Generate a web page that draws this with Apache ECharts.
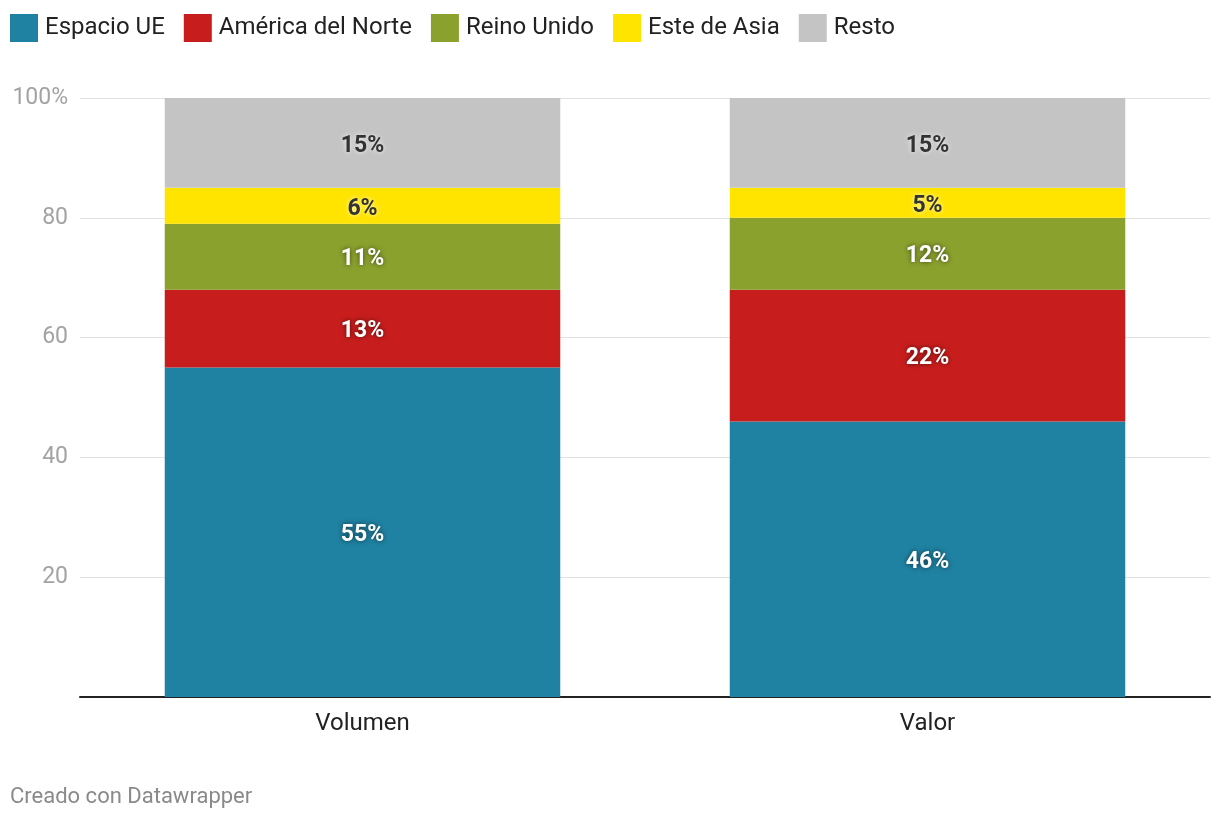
<!DOCTYPE html>
<html>
<head>
<meta charset="utf-8">
<script src="https://cdn.jsdelivr.net/npm/echarts@6/dist/echarts.min.js"></script>
<style>
html,body{margin:0;padding:0;background:#fff;}
#chart{width:1220px;height:820px;}
</style>
</head>
<body>
<div id="chart"></div>
<script>
const categories = ['Volumen', 'Valor'];
const seriesNames = ['Espacio UE', 'América del Norte', 'Reino Unido', 'Este de Asia', 'Resto'];
const espacioUE = [55, 46];
const americaNorte = [13, 22];
const reinoUnido = [11, 12];
const esteAsia = [6, 5];
const resto = [15, 15];
const yTicks = [0, 20, 40, 60, 80, 100];

const colors = ['#1f82a2', '#c71e1d', '#8ba12e', '#ffe400', '#c4c4c4'];
const darkLabel = [false, false, false, true, true];
const values = [espacioUE, americaNorte, reinoUnido, esteAsia, resto];

const chart = echarts.init(document.getElementById('chart'));
const FONT = 'Roboto, "Noto Sans", sans-serif';

const series = seriesNames.map((name, i) => ({
  name: name,
  type: 'bar',
  stack: 'total',
  barWidth: '70%',
  data: values[i],
  itemStyle: { color: colors[i] },
  label: {
    show: true,
    position: 'inside',
    offset: [0, 3],
    formatter: p => p.value + '%',
    fontFamily: FONT,
    fontWeight: 'bold',
    fontSize: 23,
    color: darkLabel[i] ? '#333333' : '#ffffff',
    textShadowColor: darkLabel[i] ? 'rgba(255,255,255,0.8)' : 'rgba(0,0,0,0.6)',
    textShadowBlur: 5
  },
  emphasis: { disabled: true }
}));

chart.setOption({
  animation: false,
  textStyle: { fontFamily: FONT },
  legend: {
    left: 5,
    top: 9,
    itemWidth: 28,
    itemHeight: 28,
    itemGap: 19,
    icon: 'rect',
    data: seriesNames,
    textStyle: { fontSize: 24, color: '#222222', fontFamily: FONT, padding: [0, 0, 0, 2] },
    selectedMode: false
  },
  grid: { left: 80, right: 10, top: 98, bottom: 123, containLabel: false },
  xAxis: {
    type: 'category',
    data: categories,
    axisLine: { lineStyle: { color: '#222222', width: 2 } },
    axisTick: { show: false },
    axisLabel: { fontSize: 24, color: '#222222', margin: 15, fontFamily: FONT }
  },
  yAxis: {
    type: 'value',
    min: yTicks[0],
    max: yTicks[yTicks.length - 1],
    interval: 20,
    axisLine: { show: false },
    axisTick: { show: false },
    splitLine: { lineStyle: { color: '#e2e2e2', width: 1 } },
    axisLabel: {
      fontSize: 23,
      color: '#a3a3a3',
      margin: 12,
      padding: [6, 0, 0, 0],
      fontFamily: FONT,
      formatter: v => v === 0 ? '' : (v === 100 ? v + '%' : String(v))
    }
  },
  graphic: [{
    type: 'text',
    left: 10,
    top: 786,
    style: { text: 'Creado con Datawrapper', fontSize: 22, fill: '#8a8a8a', fontFamily: FONT }
  }],
  series: series
});
</script>
</body>
</html>
